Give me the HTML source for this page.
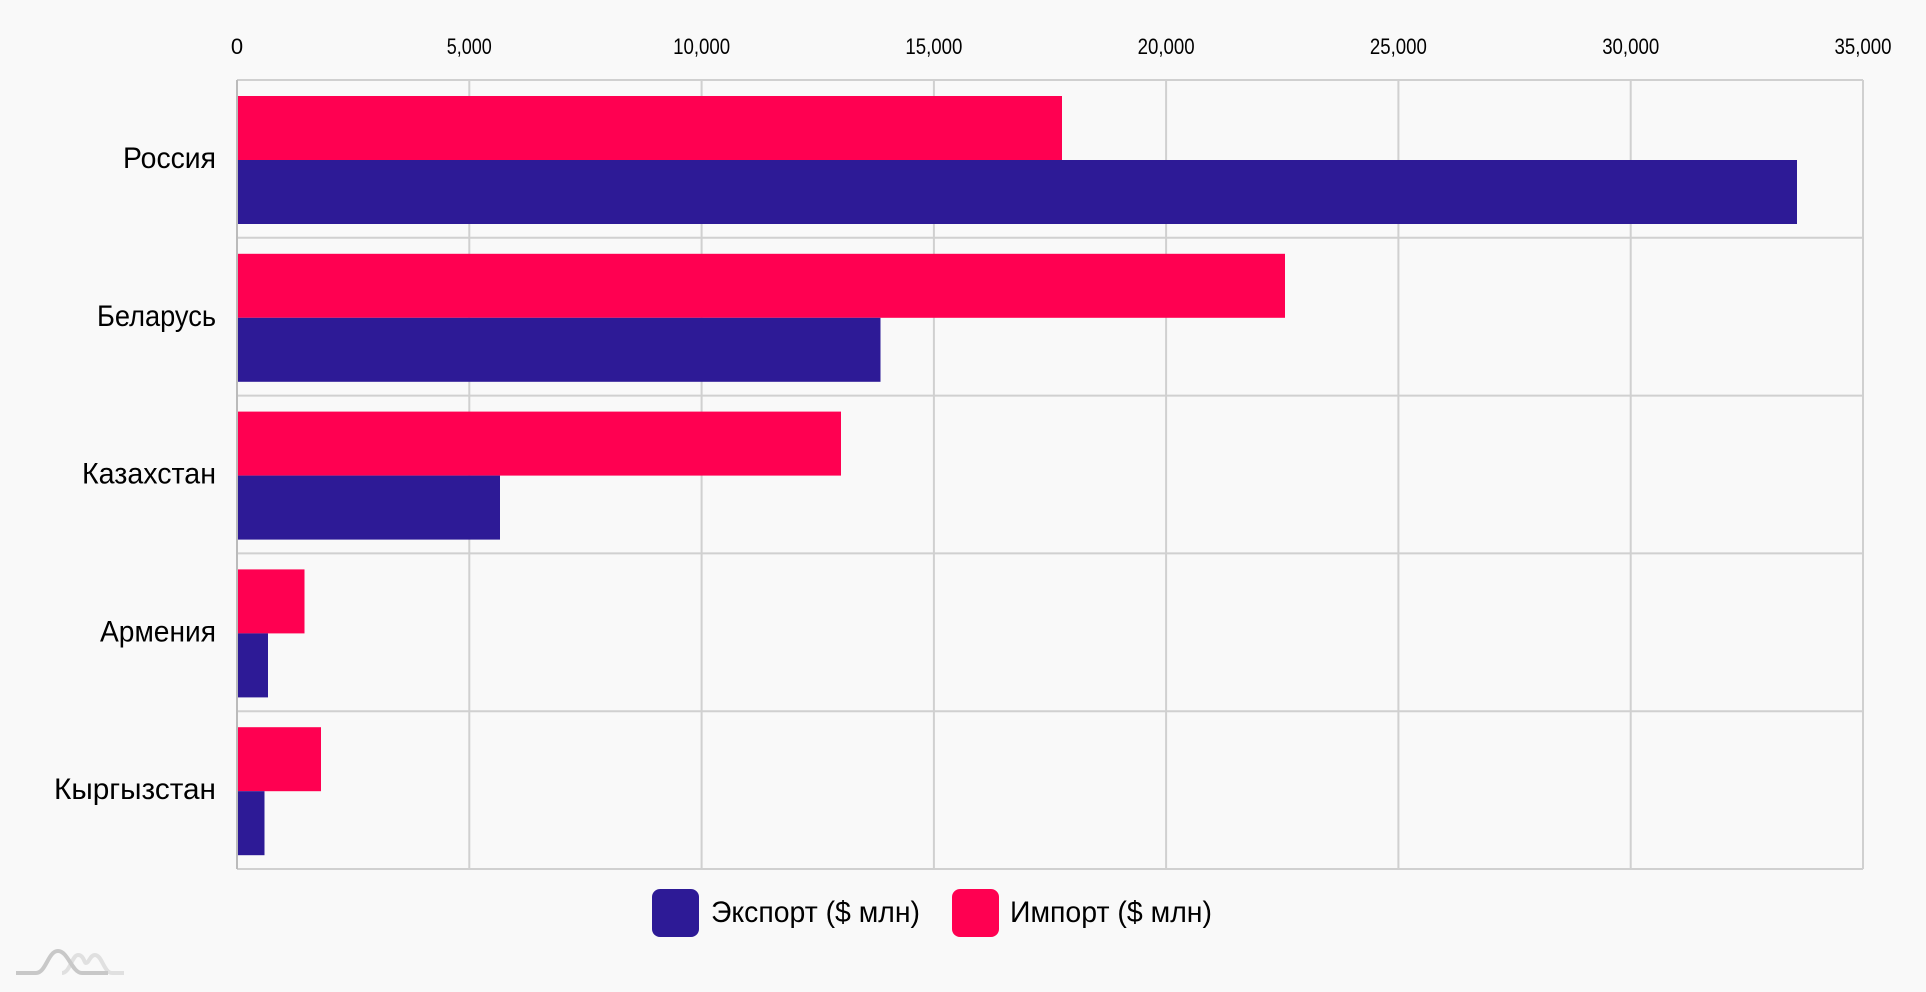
<!DOCTYPE html>
<html><head><meta charset="utf-8"><style>
html,body{margin:0;padding:0;background:#f9f9f9;}
svg{display:block;font-family:"Liberation Sans",sans-serif;}
</style></head><body>
<svg width="1926" height="992" viewBox="0 0 1926 992" xmlns="http://www.w3.org/2000/svg">
<rect width="1926" height="992" fill="#f9f9f9"/>
<g stroke="#d0d0d0" stroke-width="2" fill="none">
<line x1="469.3" y1="80" x2="469.3" y2="869"/>
<line x1="701.6" y1="80" x2="701.6" y2="869"/>
<line x1="933.9" y1="80" x2="933.9" y2="869"/>
<line x1="1166.1" y1="80" x2="1166.1" y2="869"/>
<line x1="1398.4" y1="80" x2="1398.4" y2="869"/>
<line x1="1630.7" y1="80" x2="1630.7" y2="869"/>
<line x1="1863" y1="80" x2="1863" y2="869"/>
<line x1="237" y1="80" x2="1863" y2="80"/>
<line x1="237" y1="237.8" x2="1863" y2="237.8"/>
<line x1="237" y1="395.6" x2="1863" y2="395.6"/>
<line x1="237" y1="553.4" x2="1863" y2="553.4"/>
<line x1="237" y1="711.2" x2="1863" y2="711.2"/>
<line x1="237" y1="869" x2="1863" y2="869"/>
</g>
<line x1="237" y1="80" x2="237" y2="869" stroke="#bbb" stroke-width="2"/>
<g fill="#ff0051">
<rect x="238" y="96" width="824" height="64"/>
<rect x="238" y="253.8" width="1047" height="64"/>
<rect x="238" y="411.6" width="603" height="64"/>
<rect x="238" y="569.4" width="66.5" height="64"/>
<rect x="238" y="727.2" width="83" height="64"/>
</g>
<g fill="#2d1a96">
<rect x="238" y="160" width="1559" height="64"/>
<rect x="238" y="317.8" width="642.5" height="64"/>
<rect x="238" y="475.6" width="262" height="64"/>
<rect x="238" y="633.4" width="30" height="64"/>
<rect x="238" y="791.2" width="26.5" height="64"/>
</g>
<g font-size="22" fill="#000" text-anchor="middle">
<text x="237" y="54">0</text>
<text x="469.3" y="54" textLength="45" lengthAdjust="spacingAndGlyphs">5,000</text>
<text x="701.6" y="54" textLength="57" lengthAdjust="spacingAndGlyphs">10,000</text>
<text x="933.9" y="54" textLength="57" lengthAdjust="spacingAndGlyphs">15,000</text>
<text x="1166.1" y="54" textLength="57" lengthAdjust="spacingAndGlyphs">20,000</text>
<text x="1398.4" y="54" textLength="57" lengthAdjust="spacingAndGlyphs">25,000</text>
<text x="1630.7" y="54" textLength="57" lengthAdjust="spacingAndGlyphs">30,000</text>
<text x="1863" y="54" textLength="57" lengthAdjust="spacingAndGlyphs">35,000</text>
</g>
<g font-size="30" fill="#000" text-anchor="end">
<text x="216" y="168" textLength="93" lengthAdjust="spacingAndGlyphs">Россия</text>
<text x="216" y="325.8" textLength="119" lengthAdjust="spacingAndGlyphs">Беларусь</text>
<text x="216" y="483.6" textLength="134" lengthAdjust="spacingAndGlyphs">Казахстан</text>
<text x="216" y="641.4" textLength="116" lengthAdjust="spacingAndGlyphs">Армения</text>
<text x="216" y="799.2" textLength="162" lengthAdjust="spacingAndGlyphs">Кыргызстан</text>
</g>
<rect x="652" y="889" width="47" height="48" rx="8" fill="#2d1a96"/>
<text x="711" y="922" font-size="30" textLength="209" lengthAdjust="spacingAndGlyphs">Экспорт ($ млн)</text>
<rect x="952" y="889" width="47" height="48" rx="8" fill="#ff0051"/>
<text x="1010" y="922" font-size="30" textLength="202" lengthAdjust="spacingAndGlyphs">Импорт ($ млн)</text>
<g fill="none" stroke-width="4">
<path d="M62 973 C70 973 72 955 78 955 C84 955 84 963 86 963 C89 963 90 955 95 955 C102 955 104 973 112 973 L124 973" stroke="#e0e0e0"/>
<path d="M16 973 L36 973 C46 973 48 951 58 951 C68 951 72 973 82 973 L108 973" stroke="#c8c8c8"/>
</g>
</svg>
</body></html>
